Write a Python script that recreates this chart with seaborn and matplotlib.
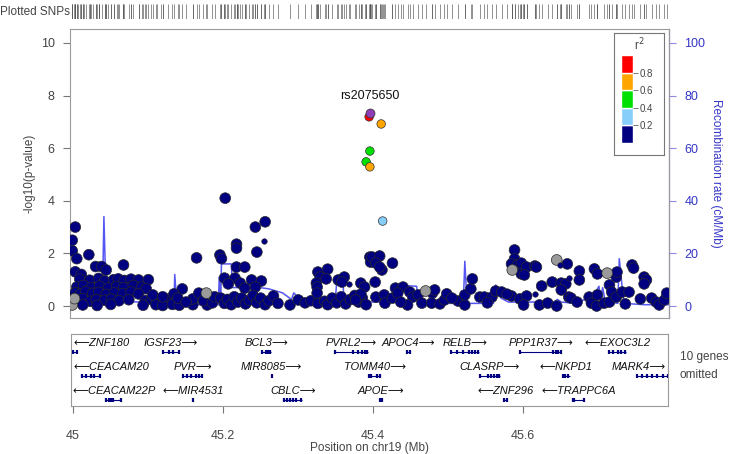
import numpy as np
import pandas as pd
import matplotlib
matplotlib.use("Agg")
import matplotlib.pyplot as plt
import seaborn as sns

# ---- data: SNPs with r2 < 0.2 (navy) ----
navy_pos = [
    45.005, 45.001, 45.001, 45.007, 45.023, 45.005, 45.013, 45.032, 45.040, 45.046, 45.069, 45.166,
    45.011, 45.024, 45.036, 45.044, 45.056, 45.062, 45.070, 45.079, 45.089, 45.102,
    45.007, 45.016, 45.026, 45.037, 45.049, 45.060, 45.069, 45.082, 45.093, 45.099,
    45.005, 45.012, 45.019, 45.028, 45.036, 45.046, 45.057, 45.068, 45.079, 45.089,
    45.003, 45.009, 45.015, 45.025, 45.033, 45.044, 45.053, 45.063, 45.076, 45.098, 45.106, 45.113, 45.119, 45.128,
    45.015, 45.034, 45.052, 45.095, 45.112, 45.121, 45.134, 45.143, 45.161, 45.180,
    45.147, 45.136, 45.161, 45.169, 45.108, 45.121, 45.141, 45.152, 45.175, 45.187, 45.190,
    45.204, 45.257, 45.244, 45.219, 45.219, 45.246, 45.197, 45.199, 45.219, 45.230, 45.203, 45.217,
    45.208, 45.224, 45.239, 45.252, 45.244, 45.230,
    45.198, 45.203, 45.207, 45.212, 45.216, 45.221, 45.226, 45.231, 45.236, 45.241, 45.246, 45.251,
    45.257, 45.262, 45.268, 45.274, 45.290, 45.301, 45.310, 45.318, 45.327, 45.336,
    45.327, 45.340, 45.330, 45.338, 45.325, 45.326, 45.326, 45.354, 45.362, 45.359, 45.384, 45.389,
    45.396, 45.397,
    45.340, 45.346, 45.352, 45.358, 45.364, 45.370, 45.376, 45.381, 45.386, 45.391, 45.384, 45.377,
    45.399, 45.409, 45.404, 45.412, 45.409, 45.426, 45.403, 45.404, 45.415, 45.416, 45.426, 45.430,
    45.440, 45.433, 45.449, 45.453, 45.460, 45.446, 45.465, 45.479, 45.482, 45.478, 45.489, 45.495,
    45.498, 45.513, 45.522, 45.522, 45.530, 45.532, 45.542, 45.548, 45.558, 45.563, 45.571, 45.584,
    45.595, 45.588, 45.588, 45.584, 45.592, 45.599, 45.597, 45.437, 45.505, 45.552, 45.578,
    45.597, 45.604, 45.601, 45.615, 45.617, 45.658, 45.674, 45.674, 45.694, 45.698, 45.723, 45.724,
    45.744, 45.746, 45.760, 45.763, 45.760, 45.638, 45.650, 45.656, 45.624, 45.604, 45.600, 45.621,
    45.632, 45.644, 45.650, 45.660, 45.663, 45.671, 45.687, 45.690, 45.697, 45.698, 45.707, 45.714,
    45.714, 45.717, 45.723, 45.731, 45.740, 45.735, 45.755, 45.770, 45.776, 45.780, 45.787, 45.790,
]
navy_logp = [
    3.00, 2.50, 2.10, 1.80, 1.95, 1.30, 1.20, 1.50, 1.50, 1.37, 1.56, 1.83,
    1.02, 0.98, 1.05, 0.95, 1.00, 1.03, 0.97, 1.02, 0.99, 1.00,
    0.72, 0.78, 0.70, 0.75, 0.68, 0.74, 0.70, 0.78, 0.72, 0.66,
    0.50, 0.45, 0.55, 0.48, 0.52, 0.44, 0.50, 0.47, 0.53, 0.46,
    0.25, 0.20, 0.28, 0.18, 0.24, 0.22, 0.26, 0.20, 0.24, 0.21, 0.25, 0.18, 0.22, 0.26,
    0.04, 0.02, 0.06, 0.03, 0.05, 0.02, 0.06, 0.03, 0.05, 0.04,
    0.65, 0.46, 0.27, 0.49, 0.42, 0.35, 0.30, 0.15, 0.20, 0.12, 0.35,
    4.10, 3.20, 3.00, 2.35, 2.20, 2.05, 1.94, 1.80, 1.48, 1.48, 1.06, 1.06,
    0.84, 0.87, 0.99, 0.95, 0.72, 0.68,
    0.30, 0.10, 0.25, 0.05, 0.35, 0.15, 0.30, 0.08, 0.22, 0.40, 0.12, 0.30,
    0.05, 0.20, 0.38, 0.10, 0.04, 0.23, 0.12, 0.20, 0.10, 0.18,
    1.29, 1.40, 1.10, 1.03, 0.87, 0.72, 0.49, 0.99, 1.10, 0.91, 0.87, 0.72,
    1.86, 1.67,
    0.05, 0.30, 0.12, 0.35, 0.08, 0.25, 0.40, 0.15, 0.30, 0.05, 0.45, 0.23,
    1.86, 1.90, 1.63, 1.37, 1.48, 1.63, 0.91, 0.34, 0.42, 0.11, 0.30, 0.68,
    0.72, 0.49, 0.53, 0.34, 0.42, 0.04, 0.11, 0.49, 0.61, 0.11, 0.08, 0.23,
    0.46, 0.19, 0.04, 0.42, 0.65, 1.03, 0.34, 0.34, 0.34, 0.57, 0.53, 0.38,
    0.27, 2.13, 1.79, 1.60, 1.56, 1.48, 1.22, 0.15, 0.30, 0.12, 0.45,
    1.63, 1.48, 1.18, 1.52, 1.48, 1.60, 1.33, 0.99, 1.41, 1.22, 1.10, 1.29,
    1.56, 1.44, 1.10, 0.99, 0.84, 0.91, 0.87, 0.84, 0.76, 0.38, 0.04, 0.04,
    0.11, 0.00, 0.61, 0.34, 0.30, 0.15, 0.34, 0.11, 0.00, 0.42, 0.11, 0.15,
    0.80, 0.53, 0.34, 0.53, 0.53, 0.08, 0.27, 0.30, 0.15, 0.04, 0.23, 0.49,
]

# SNPs drawn with small markers (r2 < 0.2)
minor_pos = [45.256, 45.368, 45.648, 45.660, 45.615]
minor_logp = [2.47, 0.84, 1.56, 1.06, 0.46]

# SNPs without LD information (grey)
grey_pos = [45.001, 45.004, 45.179, 45.470, 45.585, 45.644, 45.711]
grey_logp = [0.04, 0.28, 0.49, 0.57, 1.37, 1.75, 1.25]

# SNPs in LD with the lead SNP
ld_pos = [45.395, 45.411, 45.396, 45.391, 45.396, 45.413]
ld_logp = [7.19, 6.92, 5.89, 5.48, 5.29, 3.23]
ld_r2 = [0.9, 0.7, 0.5, 0.5, 0.7, 0.3]

lead_name = "rs2075650"
lead_pos = 45.3956
lead_logp = 7.34

# recombination rate (cM/Mb)
recomb_pos = [45.000, 45.030, 45.041, 45.043, 45.046, 45.090, 45.112, 45.118, 45.136, 45.137, 45.140,
              45.195, 45.196, 45.198, 45.199, 45.212, 45.214, 45.250, 45.262, 45.280, 45.292, 45.295,
              45.300, 45.303, 45.320, 45.322, 45.327, 45.330, 45.350, 45.352, 45.360, 45.362, 45.400,
              45.425, 45.427, 45.458, 45.461, 45.520, 45.522, 45.525, 45.560, 45.563, 45.570, 45.580,
              45.640, 45.645, 45.650, 45.670, 45.688, 45.697, 45.700, 45.702, 45.705, 45.708, 45.725,
              45.727, 45.733, 45.760, 45.793]
recomb_rate = [1.0, 1.5, 2.0, 34.0, 2.0, 1.5, 1.0, 0.5, 0.5, 12.0, 0.5,
               0.5, 11.0, 1.0, 16.0, 16.0, 7.0, 7.0, 6.5, 5.0, 2.5, 5.0,
               3.5, 2.0, 2.0, 9.0, 9.5, 3.0, 2.0, 9.0, 9.5, 2.0, 1.5,
               1.5, 8.0, 7.5, 1.0, 1.0, 17.0, 1.0, 1.0, 8.0, 3.0, 1.5,
               1.5, 2.5, 1.5, 1.0, 3.5, 6.0, 7.5, 3.0, 7.0, 2.0, 1.0,
               18.0, 1.0, 0.5, 0.5]

# genes
gene_names = ["ZNF180", "IGSF23", "BCL3", "PVRL2", "APOC4", "RELB", "PPP1R37", "EXOC3L2",
              "CEACAM20", "PVR", "MIR8085", "TOMM40", "CLASRP", "NKPD1", "MARK4",
              "CEACAM22P", "MIR4531", "CBLC", "APOE", "ZNF296", "TRAPPC6A"]
gene_start = [45.001, 45.120, 45.252, 45.349, 45.446, 45.504, 45.596, 45.715,
              45.012, 45.147, 45.2650, 45.395, 45.542, 45.652, 45.752,
              45.045, 45.1600, 45.282, 45.409, 45.575, 45.666]
gene_end = [45.006, 45.142, 45.264, 45.393, 45.449, 45.541, 45.651, 45.737,
            45.037, 45.173, 45.2655, 45.410, 45.569, 45.662, 45.795,
            45.065, 45.1605, 45.305, 45.412, 45.578, 45.681]
gene_strand = ["-", "+", "+", "+", "+", "+", "+", "-",
               "-", "+", "+", "+", "+", "-", "+",
               "-", "-", "+", "+", "-", "-"]
gene_row = [0, 0, 0, 0, 0, 0, 0, 0,
            1, 1, 1, 1, 1, 1, 1,
            2, 2, 2, 2, 2, 2]
gene_exons = [
    [45.001, 45.006], [45.120, 45.128, 45.134, 45.142], [45.252, 45.258, 45.261, 45.263],
    [45.349, 45.373, 45.380, 45.385, 45.389, 45.392], [45.446, 45.449],
    [45.504, 45.512, 45.520, 45.528, 45.532, 45.536, 45.540],
    [45.596, 45.640, 45.644, 45.647, 45.650], [45.715, 45.720, 45.726, 45.730, 45.736],
    [45.012, 45.018, 45.024, 45.028, 45.036], [45.147, 45.153, 45.158, 45.164, 45.168, 45.172],
    [45.2652], [45.395, 45.398, 45.406, 45.409], [45.542, 45.553, 45.557, 45.561, 45.565, 45.568],
    [45.653, 45.656, 45.660], [45.752, 45.758, 45.765, 45.772, 45.779, 45.786, 45.793],
    [45.045, 45.048, 45.051, 45.054, 45.064], [45.1602], [45.282, 45.286, 45.290, 45.294, 45.298, 45.304],
    [45.409, 45.411, 45.412], [45.575, 45.578], [45.666, 45.668, 45.681],
]
genes_omitted = 10

xticks = [45, 45.2, 45.4, 45.6]
xtick_labels = ["45", "45.2", "45.4", "45.6"]
r2_bins = [0.0, 0.2, 0.4, 0.6, 0.8]
r2_colors = ["#000080", "#87CEFA", "#00E000", "#FFA500", "#FF0000"]

# ---- style ----
sns.set_theme(style="white")
plt.rcParams['font.family'] = ['Liberation Sans', 'DejaVu Sans']
TXT = "#444444"
BLUE = "#3535c8"
XLIM = (44.998, 45.793)

W, H = 736, 454
fig = plt.figure(figsize=(W / 100, H / 100), dpi=100)


def box(l, t, r, b):
    return [l / W, 1 - b / H, (r - l) / W, (b - t) / H]


def r2_color(v):
    for lo, c in zip(r2_bins[::-1], r2_colors[::-1]):
        if v >= lo:
            return c
    return r2_colors[0]


ax = fig.add_axes(box(70, 29, 669, 318))
ax2 = ax.twinx()

# recombination rate line (behind points)
rec = pd.DataFrame({"pos": recomb_pos, "rate": recomb_rate})
sns.lineplot(data=rec, x="pos", y="rate", ax=ax2, color="#3838f0", lw=1.1, alpha=0.85,
             estimator=None, sort=False)
ax.set_zorder(ax2.get_zorder() + 1)
ax.patch.set_visible(False)

snps = pd.DataFrame({
    "pos": navy_pos + grey_pos,
    "logp": navy_logp + grey_logp,
    "grp": ["navy"] * len(navy_pos) + ["grey"] * len(grey_pos),
})
sns.scatterplot(data=snps, x="pos", y="logp", hue="grp",
                palette={"navy": "#000080", "grey": "#9a9a9a"},
                s=60, edgecolor="#2a2a2a", linewidth=0.5, legend=False, ax=ax, zorder=3)
sns.scatterplot(x=minor_pos, y=minor_logp, color="#000080", s=16, edgecolor="#2a2a2a",
                linewidth=0.4, legend=False, ax=ax, zorder=3)
ld_df = pd.DataFrame({"pos": ld_pos, "logp": ld_logp,
                      "col": [r2_color(v) for v in ld_r2]})
sns.scatterplot(data=ld_df, x="pos", y="logp", hue="col",
                palette={c: c for c in ld_df["col"].unique()},
                s=38, edgecolor="#333333", linewidth=0.5, legend=False, ax=ax, zorder=4)
sns.scatterplot(x=[lead_pos], y=[lead_logp], color="#8e3db5", s=42, edgecolor="#333333",
                linewidth=0.5, legend=False, ax=ax, zorder=5)
ax.text(lead_pos, lead_logp + 0.42, lead_name, ha="center", va="bottom",
        fontsize=9, color="#111111", zorder=6)

ax.set_xlim(XLIM)
ax.set_ylim(-0.456, 10.53)
ax2.set_ylim(-4.56, 105.3)
ax.set_yticks(range(0, 11, 2))
ax2.set_yticks(range(0, 101, 20))
ax.set_xticks([])
ax.set_xlabel("")
ax2.set_xlabel("")
ax.tick_params(axis="y", left=True, length=5, width=0.8, color="#777777",
               labelsize=9, labelcolor=TXT, pad=6)
ax2.tick_params(axis="y", right=True, length=5, width=0.8, color="#8a8ae0",
                labelsize=9, labelcolor=BLUE, pad=6)
for sp in ax.spines.values():
    sp.set_color("#9a9a9a")
    sp.set_linewidth(0.8)
for name, sp in ax2.spines.items():
    sp.set_visible(name == "right")
ax2.spines["right"].set_color("#8a8ae0")
ax2.spines["right"].set_linewidth(0.9)
ax.set_ylabel("-log10(p-value)", fontsize=8.5, color=TXT)
ax.yaxis.set_label_coords(-35 / 599, 0.5)
ax2.set_ylabel("Recombination rate (cM/Mb)", fontsize=8.5, color=BLUE, rotation=270, va="bottom")
ax2.yaxis.set_label_coords(1 + 41 / 599, 0.5)

# ---- plotted SNPs rug ----
rax = fig.add_axes(box(70, 4, 669, 19))
all_pos = navy_pos + minor_pos + grey_pos + ld_pos + [lead_pos]
rax.vlines(all_pos, 0, 1, color="#555555", lw=0.6, alpha=0.75)
rax.set_xlim(XLIM)
rax.set_ylim(0, 1)
rax.axis("off")
fig.text(0.0, 1 - 12 / H, "Plotted SNPs", ha="left", va="center", fontsize=8.5, color=TXT)

# ---- r2 legend ----
lg = fig.add_axes(box(614, 33, 664, 155))
lg.set_xticks([])
lg.set_yticks([])
for sp in lg.spines.values():
    sp.set_color("#777777")
    sp.set_linewidth(0.8)
lg.set_zorder(10)
lg.text(0.5, 1 - 12 / 122, "r$^2$", transform=lg.transAxes, ha="center", va="center",
        fontsize=8.5, color=TXT)
cax = fig.add_axes(box(621, 55, 633, 143))
cax.set_zorder(11)
cax.bar([0] * len(r2_bins), [0.2] * len(r2_bins), bottom=r2_bins, color=r2_colors, width=1.0)
cax.set_xlim(-0.5, 0.5)
cax.set_ylim(0, 1)
cax.set_xticks([])
cax.set_yticks([0.2, 0.4, 0.6, 0.8])
cax.yaxis.tick_right()
cax.tick_params(axis="y", right=True, left=False, length=3.5, width=0.7, color="#777777",
                labelsize=7, labelcolor=TXT, pad=1.5)
for sp in cax.spines.values():
    sp.set_visible(False)

# ---- gene panel ----
gax = fig.add_axes(box(71, 334, 668, 406))
gax.set_xlim(XLIM)
gax.set_ylim(3, 0)
gax.set_yticks([])
gax.set_xticks(xticks)
gax.set_xticklabels(xtick_labels)
gax.tick_params(axis="x", bottom=True, length=5, width=0.8, color="#777777",
                labelsize=9, labelcolor=TXT, pad=12)
for sp in gax.spines.values():
    sp.set_color("#9a9a9a")
    sp.set_linewidth(0.8)

gene_texts = []
for name, s, e, st, row, ex in zip(gene_names, gene_start, gene_end, gene_strand, gene_row, gene_exons):
    yb = row + 0.75
    gax.hlines(yb, s, e, color="#000080", lw=0.8)
    gax.vlines(ex, yb - 0.1, yb + 0.1, color="#000080", lw=1.6)
    label = ("\u27f5" + name) if st == "-" else (name + "\u27f6")
    t = gax.text((s + e) / 2, row + 0.38, label, ha="center", va="center",
                 fontsize=8, style="italic", color="#111111")
    gene_texts.append(t)

fig.canvas.draw()
rend = fig.canvas.get_renderer()
inv = gax.transData.inverted()
for t in gene_texts:
    bb = t.get_window_extent(rend)
    lx = inv.transform((bb.x0, bb.y0))[0]
    rx = inv.transform((bb.x1, bb.y0))[0]
    if lx < XLIM[0]:
        t.set_ha("left")
        t.set_x(XLIM[0] + 0.003)
    elif rx > XLIM[1]:
        t.set_ha("right")
        t.set_x(XLIM[1] - 0.003)

fig.text(680 / W, 1 - 357 / H, f"{genes_omitted} genes", ha="left", va="center", fontsize=8.5, color=TXT)
fig.text(680 / W, 1 - 375 / H, "omitted", ha="left", va="center", fontsize=8.5, color=TXT)
fig.text((70 + 669) / 2 / W, 1 - 448 / H, "Position on chr19 (Mb)", ha="center", va="center",
         fontsize=8.5, color=TXT)

fig.savefig("out.png", dpi=100)
